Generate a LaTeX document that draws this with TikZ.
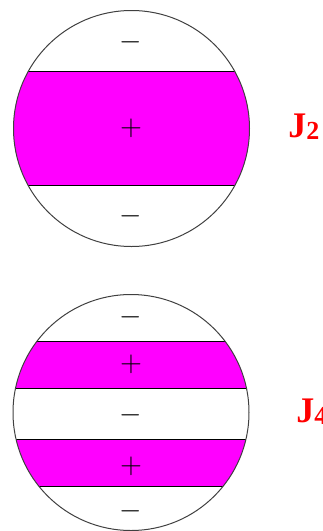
\documentclass[tikz,border=0pt]{standalone}
\usepackage{fontspec}
\newfontfamily\jfont{Liberation Serif}
\usetikzlibrary{positioning}
\usepackage[dvipsnames, svgnames]{xcolor}
\definecolor{bandpink}{RGB}{255,0,255}

\tikzset{
    band/.style={fill=bandpink},
    edge/.style={line width=0.5pt},
    rim/.style={line width=0.5pt, draw=black!75},
    sign/.style={font=\Large, inner sep=0pt},
    jlabel/.style={text=red, inner sep=0pt, anchor=base west,
        font=\jfont\bfseries\fontsize{18}{20}\selectfont}
}
\newcommand{\jsub}[1]{\raisebox{-1pt}{\fontsize{13}{13}\selectfont #1}}

\begin{document}
\begin{tikzpicture}[x=0.5pt, y=-0.5pt]
    \useasboundingbox (0,0) rectangle (322,531);

    % Top disc
    \begin{scope}
        \clip (131.5,128.5) circle (118);
        \fill[band] (0,71) rectangle (322,185);
        \draw[edge] (0,71) -- (322,71);
        \draw[edge] (0,185) -- (322,185);
    \end{scope}
    \draw[rim] (131.5,128.5) circle (118);
    \node[sign] (topm1) at (131,42) {$-$};
    \node[sign] (topp1) at (131,128) {$+$};
    \node[sign] (topm2) at (131,216) {$-$};
    \node[jlabel] (jtwo) at (288,137) {J\jsub{2}};

    % Bottom disc
    \begin{scope}
        \clip (131,412.5) circle (118);
        \fill[band] (0,341) rectangle (322,388);
        \fill[band] (0,439) rectangle (322,486);
        \foreach \y in {341, 388, 439, 486}
            \draw[edge] (0,\y) -- (322,\y);
    \end{scope}
    \draw[rim] (131,412.5) circle (118);
    \node[sign] (botm1) at (131,317) {$-$};
    \node[sign] (botp1) at (131,364) {$+$};
    \node[sign] (botm2) at (131,415) {$-$};
    \node[sign] (botp2) at (131,466) {$+$};
    \node[sign] (botm3) at (131,511) {$-$};
    \node[jlabel] (jfour) at (296,422) {J\jsub{4}};
\end{tikzpicture}
\end{document}
